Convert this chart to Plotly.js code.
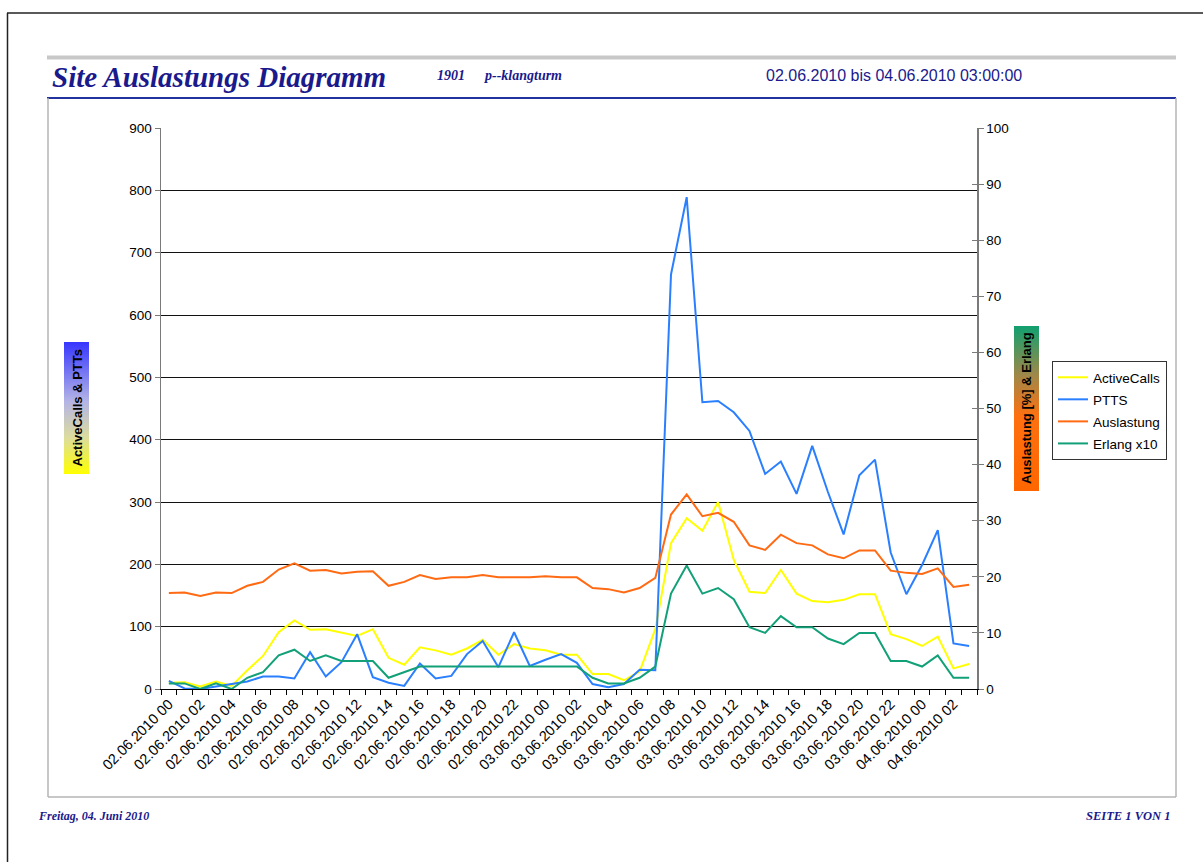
<!DOCTYPE html>
<html>
<head>
<meta charset="utf-8">
<script src="https://cdn.plot.ly/plotly-3.0.1.min.js"></script>
<style>html,body{margin:0;padding:0;background:#fff;}#chart{width:1203px;height:862px;}</style>
</head>
<body>
<div id="chart"></div>
<script>
// ---- data ----
const days = ["02.06.2010","03.06.2010","04.06.2010"];
const categories = [];
for (let d = 0; d < 3; d++) {
  const maxH = d < 2 ? 24 : 4;
  for (let h = 0; h < maxH; h++) categories.push(days[d] + " " + String(h).padStart(2, "0"));
}
const tickLabels = categories.map((c, i) => (i % 2 === 0 ? c : ""));

const activeCalls = [10,11,4,12,5,30,53,91,110,95,96,91,85,96,50,39,67,62,55,65,79,55,72,65,62,55,55,24,24,14,28,96,234,274,254,300,207,156,154,191,153,141,139,143,152,152,88,80,69,84,33,40];
const ptts = [13,1,0,4,8,12,20,20,17,59,20,43,88,19,10,5,41,17,21,56,77,35,91,37,47,56,42,8,3,8,31,30,665,789,460,462,444,414,345,365,313,390,316,248,343,368,219,152,199,255,73,69];
const auslastung = [17.1,17.2,16.6,17.2,17.1,18.4,19.1,21.3,22.4,21.1,21.2,20.6,20.9,21.0,18.4,19.1,20.3,19.6,19.9,19.9,20.3,19.9,19.9,19.9,20.1,19.9,19.9,18.0,17.8,17.2,18.0,19.8,31.1,34.7,30.8,31.4,29.8,25.6,24.8,27.5,26.0,25.6,24.0,23.3,24.7,24.7,21.1,20.7,20.5,21.5,18.2,18.6];
const erlangX10 = [1,1,0,1,0,2,3,6,7,5,6,5,5,5,2,3,4,4,4,4,4,4,4,4,4,4,4,2,1,1,2,4,17,22,17,18,16,11,10,13,11,11,9,8,10,10,5,5,4,6,2,2];

const seriesNames = ["ActiveCalls","PTTS","Auslastung","Erlang x10"];

// ---- layout helpers (pixel -> paper) ----
const PL = 161, PW = 816, PB = 689, PH = 561;
const px = x => (x - PL) / PW;
const py = y => (PB - y) / PH;

const sans = "Liberation Sans, Arial, Helvetica, sans-serif";
const serif = "Liberation Serif, Times New Roman, serif";
const navy = "#1a1a8c";

function line(color, name, yaxis, ydata) {
  return {
    type: "scatter", mode: "lines", name: name, x: categories, y: ydata,
    yaxis: yaxis, legendgroup: name,
    line: {color: color, width: 2}, hoverinfo: "x+y+name"
  };
}

const traces = [
  line("#ffff00", seriesNames[0], "y", activeCalls),
  line("#2a7fff", seriesNames[1], "y", ptts),
  line("#ff6a13", seriesNames[2], "y2", auslastung),
  line("#12a078", seriesNames[3], "y2", erlangX10),
  {type: "scatter", mode: "lines", x: [], y: [], yaxis: "y3", showlegend: false, hoverinfo: "skip"}
];

function gradSvg(stops, w, h) {
  const st = stops.map(s => `<stop offset="${s[0]}" stop-color="${s[1]}"/>`).join("");
  const svg = `<svg xmlns="http://www.w3.org/2000/svg" width="${w}" height="${h}" preserveAspectRatio="none"><defs><linearGradient id="g" x1="0" y1="0" x2="0" y2="1">${st}</linearGradient></defs><rect width="${w}" height="${h}" fill="url(#g)"/></svg>`;
  return "data:image/svg+xml;charset=utf-8," + encodeURIComponent(svg);
}

const leftBox = {x0: 64, x1: 89, y0: 342, y1: 474};
const rightBox = {x0: 1014, x1: 1039, y0: 326, y1: 491};

const images = [
  {source: gradSvg([[0,"#3636ff"],[0.45,"#b4b4e6"],[0.72,"#dcdca0"],[1,"#ffff00"]], 25, 132),
   xref: "paper", yref: "paper", x: px(leftBox.x0), y: py(leftBox.y0),
   sizex: (leftBox.x1 - leftBox.x0) / PW, sizey: (leftBox.y1 - leftBox.y0) / PH,
   xanchor: "left", yanchor: "top", sizing: "stretch", layer: "above"},
  {source: gradSvg([[0,"#10a070"],[0.3,"#a08848"],[0.55,"#ff7010"],[1,"#ff6600"]], 25, 165),
   xref: "paper", yref: "paper", x: px(rightBox.x0), y: py(rightBox.y0),
   sizex: (rightBox.x1 - rightBox.x0) / PW, sizey: (rightBox.y1 - rightBox.y0) / PH,
   xanchor: "left", yanchor: "top", sizing: "stretch", layer: "above"}
];

function hline(x0, x1, y, color, w) {
  return {type: "line", xref: "paper", yref: "paper", x0: px(x0), x1: px(x1), y0: py(y), y1: py(y), line: {color: color, width: w}};
}
function vline(x, y0, y1, color, w) {
  return {type: "line", xref: "paper", yref: "paper", x0: px(x), x1: px(x), y0: py(y0), y1: py(y1), line: {color: color, width: w}};
}

const shapes = [
  hline(7, 1203, 13, "#222", 1.5),
  vline(7.5, 13, 862, "#222", 1.5),
  hline(47, 1176, 57.5, "#c8c8c8", 4),
  hline(47, 1176, 98, "#2233a0", 2),
  vline(48, 98, 797, "#b4b4b4", 1.5),
  vline(1176, 98, 797, "#b4b4b4", 1.5),
  hline(48, 1176, 797, "#b4b4b4", 1.5)
];

function ann(text, x, y, opts) {
  return Object.assign({xref: "paper", yref: "paper", x: px(x), y: py(y), text: text, showarrow: false,
    xanchor: "left", yanchor: "middle"}, opts || {});
}

const annotations = [
  ann("<b><i>Site Auslastungs Diagramm</i></b>", 50, 77, {font: {family: serif, size: 29, color: navy}}),
  ann("<b><i>1901</i></b>", 435, 76, {font: {family: serif, size: 14, color: navy}}),
  ann("<b><i>p--klangturm</i></b>", 482, 76, {font: {family: serif, size: 14, color: navy}}),
  ann("02.06.2010 bis 04.06.2010 03:00:00", 764, 76, {font: {family: sans, size: 16, color: navy}}),
  ann("<b><i>Freitag, 04. Juni 2010</i></b>", 36, 816, {font: {family: serif, size: 12, color: navy}}),
  ann("<b><i>SEITE 1 VON 1</i></b>", 1172, 816, {xanchor: "right", font: {family: serif, size: 12.5, color: navy}}),
  ann("<b>ActiveCalls &amp; PTTs</b>", (leftBox.x0 + leftBox.x1) / 2, (leftBox.y0 + leftBox.y1) / 2,
      {xanchor: "center", textangle: -90, font: {family: sans, size: 13, color: "#000"}}),
  ann("<b>Auslastung [%] &amp; Erlang</b>", (rightBox.x0 + rightBox.x1) / 2, (rightBox.y0 + rightBox.y1) / 2,
      {xanchor: "center", textangle: -90, font: {family: sans, size: 13, color: "#000"}})
];

const layout = {
  width: 1203, height: 862,
  margin: {l: PL, r: 1203 - PL - PW, t: PB - PH, b: 862 - PB, pad: 0},
  paper_bgcolor: "#fff", plot_bgcolor: "#fff",
  font: {family: sans, size: 13, color: "#000"},
  showlegend: true,
  legend: {x: px(1052), y: py(361), xanchor: "left", yanchor: "top",
    bgcolor: "#fff", bordercolor: "#333", borderwidth: 1,
    font: {family: sans, size: 13.5, color: "#000"}, traceorder: "grouped", tracegroupgap: 1.5},
  xaxis: {type: "category", categoryorder: "array", categoryarray: categories,
    range: [-0.5, categories.length - 0.5],
    tickmode: "array", tickvals: categories, ticktext: tickLabels,
    tickson: "boundaries", ticks: "outside", ticklen: 5, tickcolor: "#000", tickwidth: 1,
    tickangle: -45, tickfont: {family: sans, size: 14.5, color: "#000"},
    showline: true, linecolor: "#000", linewidth: 1, showgrid: false, zeroline: false, fixedrange: true},
  yaxis: {range: [0, 900], tickmode: "linear", tick0: 0, dtick: 100,
    showgrid: true, gridcolor: "#111", gridwidth: 1,
    showline: true, linecolor: "#7a7a7a", linewidth: 1.5,
    ticks: "outside", ticklen: 5, tickcolor: "#7a7a7a", tickwidth: 1,
    tickfont: {family: sans, size: 13.5, color: "#000"}, zeroline: false, fixedrange: true},
  yaxis2: {overlaying: "y", side: "right", anchor: "x", range: [0, 100], tickmode: "linear", tick0: 0, dtick: 10,
    showgrid: false, showline: true, linecolor: "#7a7a7a", linewidth: 1.5,
    ticks: "outside", ticklen: 5, tickcolor: "#7a7a7a", tickwidth: 1,
    tickfont: {family: sans, size: 13.5, color: "#000"}, zeroline: false, fixedrange: true},
  yaxis3: {overlaying: "y", side: "right", anchor: "x", range: [0, 100], tickmode: "linear", tick0: 0, dtick: 10,
    showgrid: false, showline: false, showticklabels: false,
    ticks: "inside", ticklen: 5, tickcolor: "#7a7a7a", tickwidth: 1, zeroline: false, fixedrange: true},
  images: images,
  shapes: shapes,
  annotations: annotations
};

Plotly.newPlot("chart", traces, layout, {displayModeBar: false, staticPlot: true});
</script>
</body>
</html>
